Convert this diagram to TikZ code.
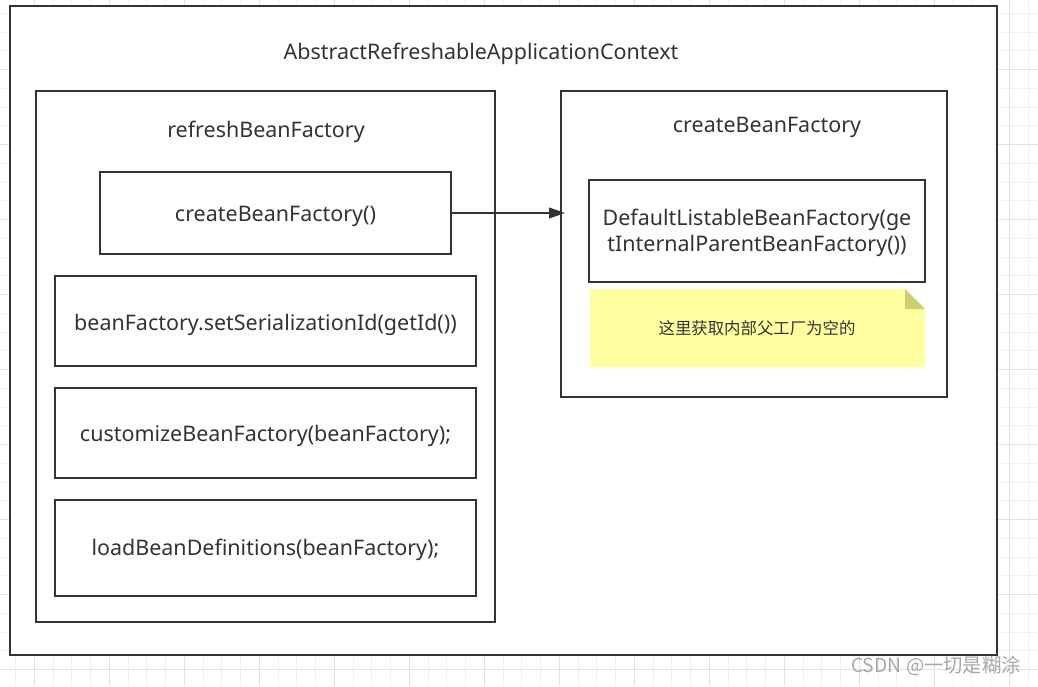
\documentclass[tikz,border=0pt]{standalone}
\usepackage{fontspec}
\setmainfont{Noto Sans}
\newfontfamily\cjk{Noto Sans CJK SC}
\usetikzlibrary{arrows.meta}
\definecolor{ink}{HTML}{333333}
\definecolor{gridminor}{HTML}{F0F0F0}
\definecolor{gridmajor}{HTML}{E2E2E2}
\definecolor{notefill}{HTML}{FFFFA0}
\definecolor{notefold}{HTML}{CECE72}
\definecolor{wm}{HTML}{A8A8A8}
\tikzset{
  box/.style={draw=ink, line width=1.5pt, fill=white, inner sep=0pt, text=ink},
  label/.style={text=ink, font=\fontsize{16.1}{19.5}\selectfont, inner sep=0pt},
  conn/.style={draw=ink, line width=1.5pt, -{Triangle[length=12pt,width=8pt]}},
}
\begin{document}
\begin{tikzpicture}[x=0.75pt,y=-0.75pt]
\useasboundingbox (0,0) rectangle (1038,686);
\fill[white] (0,0) rectangle (1038,686);
% grid
\foreach \i in {0,...,55} {
  \pgfmathsetmacro{\gx}{15.6+18.75*\i}
  \draw[gridminor, line width=0.75pt] (\gx,0) -- (\gx,686);
}
\foreach \i in {0,...,37} {
  \pgfmathsetmacro{\gy}{13.3+18.75*\i}
  \draw[gridminor, line width=0.75pt] (0,\gy) -- (1038,\gy);
}
\foreach \i in {0,...,13} {
  \pgfmathsetmacro{\gx}{34.3+75*\i}
  \draw[gridmajor, line width=0.75pt] (\gx,0) -- (\gx,686);
}
\foreach \i in {0,...,8} {
  \pgfmathsetmacro{\gy}{69.3+75*\i}
  \draw[gridmajor, line width=0.75pt] (0,\gy) -- (1038,\gy);
}
% outer box
\node[box, minimum width=740.25pt, minimum height=486.75pt] (outer) at (503.5,330.5) {};
\node[label] (outert) at (481,54) {AbstractRefreshableApplicationContext};
% left box
\node[box, minimum width=344.25pt, minimum height=398.25pt] (left) at (265.5,356.5) {};
\node[label] (leftt) at (266,132) {refreshBeanFactory};
\node[box, minimum width=263.25pt, minimum height=61.5pt] (cbf) at (275.5,213) {};
\node[label] (cbft) at (275.5,216) {createBeanFactory()};
\node[box, minimum width=315.75pt, minimum height=67.5pt] (ser) at (265.5,321) {};
\node[label] (sert) at (265.5,325) {beanFactory.setSerializationId(getId())};
\node[box, minimum width=315.75pt, minimum height=67.5pt] (cust) at (265.5,433) {};
\node[label] (custt) at (265.5,436) {customizeBeanFactory(beanFactory);};
\node[box, minimum width=315.75pt, minimum height=72pt] (load) at (265.5,548) {};
\node[label] (loadt) at (265.5,550) {loadBeanDefinitions(beanFactory);};
% right box
\node[box, minimum width=289.5pt, minimum height=229.5pt] (right) at (754,244) {};
\node[label] (rightt) at (767,127) {createBeanFactory};
\node[box, minimum width=252pt, minimum height=76.5pt] (dflt) at (757,231) {};
\node[label, align=center] (dfltt) at (757,233) {DefaultListableBeanFactory(ge\\tInternalParentBeanFactory())};
% note
\fill[notefill] (590,289) -- (905,289) -- (925,309) -- (925,367) -- (590,367) -- cycle;
\fill[notefold] (905,289) -- (925,309) -- (905,309) -- cycle;
\node[text=ink, inner sep=0pt, font=\cjk\fontsize{12.3}{14}\selectfont] (note) at (757,328) {这里获取内部父工厂为空的};
% arrow
\coordinate (tip) at (565,213);
\draw[conn] (cbf.east) -- (tip);
% watermark
\node[text=wm, inner sep=0pt, font=\cjk\fontsize{14.5}{16}\selectfont] (wmark) at (936,666) {CSDN @一切是糊涂};
\end{tikzpicture}
\end{document}
